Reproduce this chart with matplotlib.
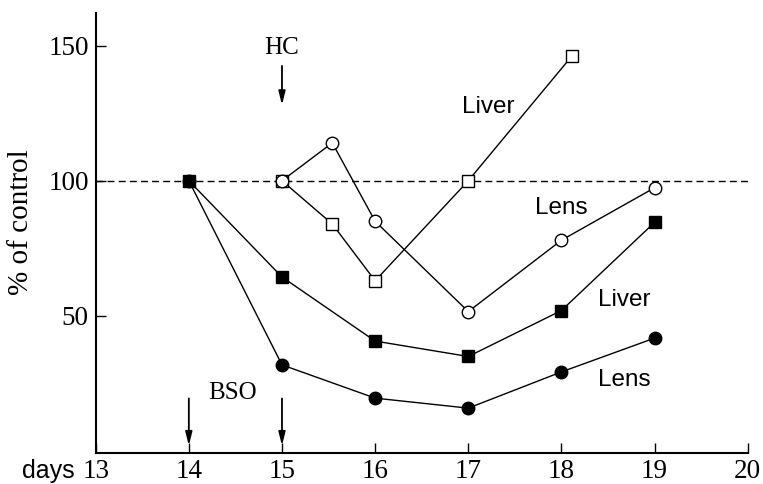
import matplotlib.pyplot as plt

# open squares: liver (HC treated)
liver_hc_x = [15, 15.54, 16, 17, 18.11]
liver_hc_y = [100, 84, 63, 100, 146]
# open circles: lens (HC treated)
lens_hc_x = [15, 15.54, 16, 17, 18, 19]
lens_hc_y = [100, 114, 85, 51.6, 78, 97.4]
# filled squares: liver (BSO)
liver_x = [14, 15, 16, 17, 18, 19]
liver_y = [100, 64.4, 40.7, 35, 52, 84.6]
# filled circles: lens (BSO)
lens_x = [14, 15, 16, 17, 18, 19]
lens_y = [100, 31.9, 19.6, 15.9, 29.3, 41.8]

xticks = [13, 14, 15, 16, 17, 18, 19, 20]
yticks = [50, 100, 150]

serif = 'Liberation Serif'
sans = 'Liberation Sans'

fig = plt.figure(figsize=(7.63, 4.84), dpi=100)
ax = fig.add_axes([0.1254, 0.064, 0.8546, 0.909])

ax.axhline(100, color='black', lw=1.0, ls=(0, (5, 3)), zorder=1)

kw = dict(color='black', lw=1.0, markersize=9, markeredgewidth=1.0, zorder=3)
ax.plot(liver_hc_x, liver_hc_y, marker='s', markerfacecolor='white', **kw)
ax.plot(lens_hc_x, lens_hc_y, marker='o', markerfacecolor='white', **kw)
ax.plot(lens_x, lens_y, marker='o', markerfacecolor='black', **kw)
ax.plot(liver_x, liver_y, marker='s', markerfacecolor='black', **kw)

ax.set_xlim(13, 20)
ax.set_ylim(-0.7, 162)
ax.spines['top'].set_visible(False)
ax.spines['right'].set_visible(False)
ax.spines['left'].set_linewidth(1.5)
ax.spines['bottom'].set_linewidth(1.5)

ax.set_xticks(xticks)
ax.set_yticks(yticks)
ax.tick_params(direction='in', length=7, width=1.0)
ax.tick_params(axis='x', pad=4)
ax.tick_params(axis='y', pad=5)
for lab in ax.get_xticklabels() + ax.get_yticklabels():
    lab.set_fontfamily(serif)
    lab.set_fontsize(19.5)

fig.text(48 / 763, 1 - 471 / 484, 'days', fontsize=18, family=sans,
         ha='center', va='center')
fig.text(21 / 763, 1 - 222 / 484, '% of control', fontsize=21, family=serif,
         rotation=90, ha='center', va='center')

# arrows
arr = dict(arrowstyle='-|>,head_length=0.8,head_width=0.2', color='black', lw=1.3)
ax.annotate('', xy=(15, 127), xytext=(15, 143.5), arrowprops=arr)
ax.text(15, 149, 'HC', fontsize=18, family=serif, ha='center', va='center')
ax.annotate('', xy=(14, 1.0), xytext=(14, 20.5), arrowprops=arr)
ax.annotate('', xy=(15, 1.0), xytext=(15, 20.5), arrowprops=arr)
ax.text(14.47, 21.5, 'BSO', fontsize=18, family=serif, ha='center', va='center')

ax.text(17.21, 127.4, 'Liver', fontsize=17.5, family=sans, ha='center', va='center')
ax.text(18.0, 90, 'Lens', fontsize=17.5, family=sans, ha='center', va='center')
ax.text(18.67, 56, 'Liver', fontsize=17.5, family=sans, ha='center', va='center')
ax.text(18.67, 26.3, 'Lens', fontsize=17.5, family=sans, ha='center', va='center')

fig.savefig('out.png', dpi=100)
